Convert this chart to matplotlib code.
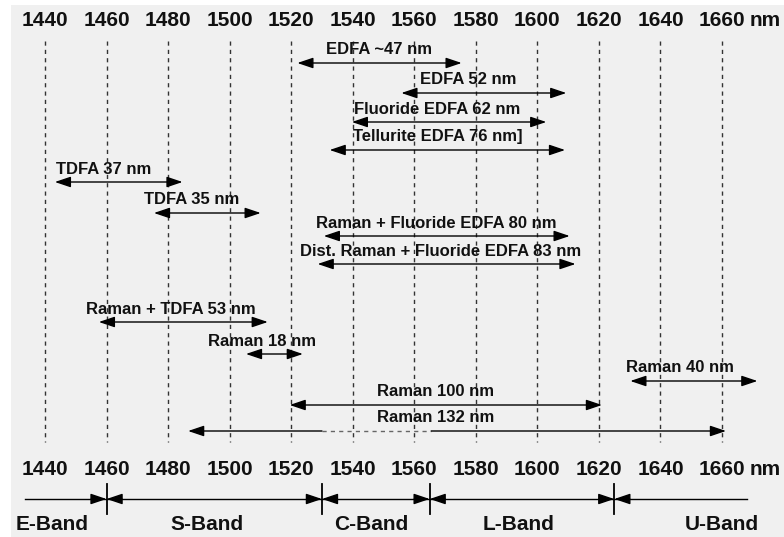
import matplotlib
matplotlib.use("Agg")
import matplotlib.pyplot as plt

# wavelength grid (nm)
ticks = [1440, 1460, 1480, 1500, 1520, 1540, 1560, 1580, 1600, 1620, 1640, 1660]

# amplifier gain windows: label, start nm, end nm
labels = ["EDFA ~47 nm", "EDFA 52 nm", "Fluoride EDFA 62 nm", "Tellurite EDFA 76 nm]",
          "TDFA 37 nm", "TDFA 35 nm", "Raman + Fluoride EDFA 80 nm",
          "Dist. Raman + Fluoride EDFA 83 nm", "Raman + TDFA 53 nm", "Raman 18 nm",
          "Raman 40 nm", "Raman 100 nm", "Raman 132 nm"]
starts = [1522.0, 1555.8, 1539.7, 1532.5, 1443.2, 1475.4, 1530.6, 1528.6, 1457.5, 1505.3,
          1630.2, 1519.5, 1486.5]
ends = [1575.4, 1609.4,1602.9, 1609.0, 1484.7, 1510.1, 1610.5, 1612.4, 1512.4, 1523.8,
        1671.5, 1621.0, 1661.3]
# gap drawn dashed inside the 132 nm window
gap_132 = (1530.0, 1565.5)

# telecom bands
band_names = ["E-Band", "S-Band", "C-Band", "L-Band", "U-Band"]
band_edges = [1433.5, 1460, 1530, 1565, 1625, 1668.2]

# ---- layout (row positions in pixels from top) ----
rows = [63, 93, 122, 150, 182, 213, 236, 264, 322, 354, 381, 405, 431]
label_shift = [0, -5, -4, -3, -5, -5, -3.5, -2, -4, -4, -4.5, -3.3, -7]
band_label_x = [1442.3, 1492.8, 1546.0, 1594.0, 1660.0]
xscale = 677.0 / 220.0          # pixels per nm
FONT = "Liberation Sans"
INK = "#111111"

fig = plt.figure(figsize=(7.84, 5.37), dpi=100, facecolor="white")
ax = fig.add_axes([11 / 784, 0, 773 / 784, 532 / 537], facecolor="#f0f0f0")
ax.set_xlim(1440 + (11 - 45) / xscale, 1440 + (784 - 45) / xscale)
ax.set_ylim(537, 5)
ax.axis("off")
ax.add_patch(plt.Rectangle((0, 0), 1, 1, transform=ax.transAxes, color="#f0f0f0", zorder=0))

# vertical guides and wavelength labels, top and bottom
for t in ticks:
    ax.plot([t, t], [41, 442], color="#333333", lw=1.0, ls=(0, (3, 3)), zorder=1)
    for yb in (26, 475):
        ax.text(t, yb, str(t), ha="center", va="baseline", fontsize=15,
                fontweight="bold", family=FONT, color=INK)
for yb in (26, 475):
    ax.text(ticks[-1] + 9.0, yb, "nm", ha="left", va="baseline", fontsize=15,
            fontweight="bold", family=FONT, color=INK)

arrow_kw = dict(arrowstyle="<|-|>,head_length=0.8,head_width=0.27", color="black",
                lw=1.0, shrinkA=0, shrinkB=0, mutation_scale=12)
one_kw = dict(arrowstyle="-|>,head_length=0.8,head_width=0.27", color="black",
              lw=1.0, shrinkA=0, shrinkB=0, mutation_scale=12)

for lab, s, e, y, dx in zip(labels, starts, ends, rows, label_shift):
    if lab == "Raman 132 nm":
        g0, g1 = gap_132
        ax.annotate("", xy=(s, y), xytext=(g0, y), arrowprops=one_kw)
        ax.annotate("", xy=(e, y), xytext=(g1, y), arrowprops=one_kw)
        ax.plot([g0, g1], [y, y], color="#666666", lw=1.0, ls=(0, (3, 3)))
    else:
        ax.annotate("", xy=(s, y), xytext=(e, y), arrowprops=arrow_kw)
    ax.text((s + e) / 2 + dx, y - 8.5, lab, ha="center", va="baseline", fontsize=12,
            fontweight="bold", family=FONT, color=INK)

# band axis with boundary markers
yb = 499
ax.plot([band_edges[0], band_edges[-1]], [yb, yb], color="black", lw=1.0)
for edge in band_edges[1:-1]:
    ax.plot([edge, edge], [484, 514], color="black", lw=1.3)
    for side in (-1, 1):
        ax.annotate("", xy=(edge, yb), xytext=(edge + side * 5, yb), arrowprops=one_kw)
for name, bx in zip(band_names, band_label_x):
    ax.text(bx, 530.5, name, ha="center", va="baseline", fontsize=15,
            fontweight="bold", family=FONT, color=INK)

fig.savefig("out.png", dpi=100, facecolor="white")
